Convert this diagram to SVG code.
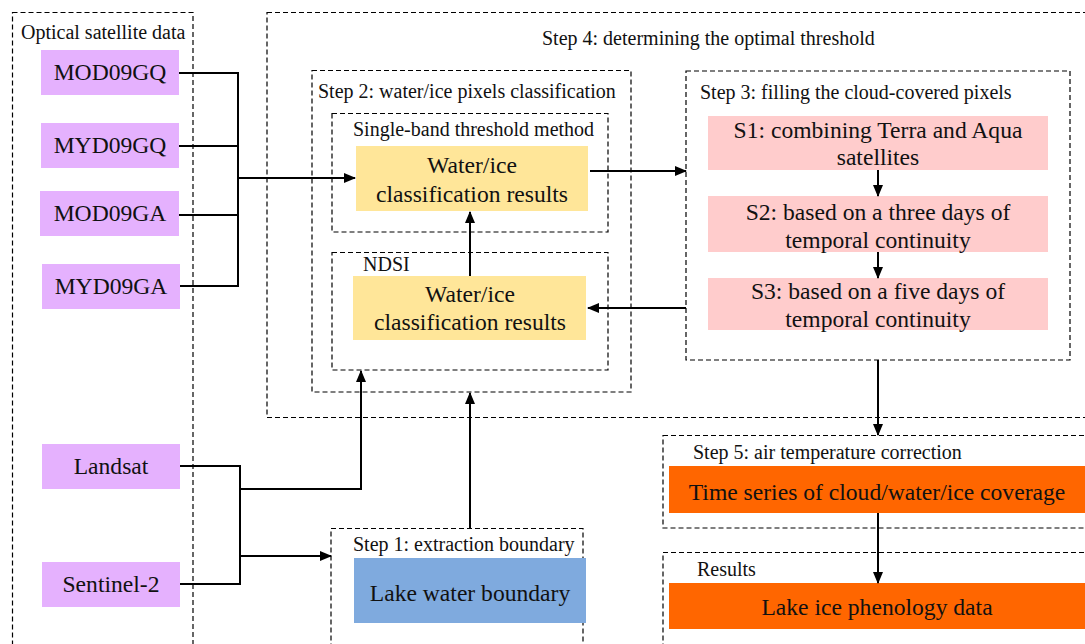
<svg xmlns="http://www.w3.org/2000/svg" width="1085" height="644" viewBox="0 0 1085 644" font-family="'Liberation Serif', 'Times New Roman', serif">
<defs>
<style>
text{font-family:"Liberation Serif","Times New Roman",serif;fill:#111}
.frame{fill:none;stroke:#000;stroke-width:1.2;stroke-dasharray:5 3}
.lbl{font-size:20px}
.txt{font-size:23.6px;text-anchor:middle}
.sat{fill:#E5B1FE}
.yel{fill:#FFE699}
.pink{fill:#FFCCCC}
.blue{fill:#7FAADE}
.org{fill:#FF6600}
.ln{fill:none;stroke:#000;stroke-width:2}
</style>
<marker id="ah" markerUnits="userSpaceOnUse" markerWidth="12" markerHeight="10" refX="11" refY="5" orient="auto">
<path d="M0,0 L12,5 L0,10 Z" fill="#000"/>
</marker>
</defs>
<rect width="1085" height="644" fill="#fff"/>

<g id="frames">
<rect class="frame" x="12.5" y="12.5" width="180.5" height="660"/>
<rect class="frame" x="267" y="12.5" width="840" height="405"/>
<rect class="frame" x="312" y="70.5" width="319" height="321.5"/>
<rect class="frame" x="332" y="113.5" width="276" height="118.5"/>
<rect class="frame" x="332" y="252.5" width="276" height="117.5"/>
<rect class="frame" x="686" y="71" width="384" height="289"/>
<rect class="frame" x="663" y="435.5" width="440" height="92.5"/>
<rect class="frame" x="663" y="552.5" width="440" height="120"/>
<rect class="frame" x="331" y="528.5" width="252" height="140"/>
</g>

<g id="labels">
<text class="lbl" x="21" y="39">Optical satellite data</text>
<text class="lbl" x="542" y="45">Step 4: determining the optimal threshold</text>
<text class="lbl" x="318" y="98">Step 2: water/ice pixels classification</text>
<text class="lbl" x="353" y="136">Single-band threshold method</text>
<text class="lbl" x="363" y="271">NDSI</text>
<text class="lbl" x="700" y="99">Step 3: filling the cloud-covered pixels</text>
<text class="lbl" x="693" y="459">Step 5: air temperature correction</text>
<text class="lbl" x="697" y="576">Results</text>
<text class="lbl" x="353" y="551">Step 1: extraction boundary</text>
</g>

<g id="n-mod09gq"><rect class="sat" x="41" y="50" width="138" height="45"/><text class="txt" x="110" y="80">MOD09GQ</text></g>
<g id="n-myd09gq"><rect class="sat" x="41" y="123" width="138" height="45"/><text class="txt" x="110" y="153">MYD09GQ</text></g>
<g id="n-mod09ga"><rect class="sat" x="40" y="191" width="139" height="45"/><text class="txt" x="110" y="221">MOD09GA</text></g>
<g id="n-myd09ga"><rect class="sat" x="42" y="264" width="138" height="45"/><text class="txt" x="111" y="294">MYD09GA</text></g>
<g id="n-landsat"><rect class="sat" x="42" y="444" width="138" height="45"/><text class="txt" x="111" y="474">Landsat</text></g>
<g id="n-sentinel"><rect class="sat" x="42" y="562" width="138" height="45"/><text class="txt" x="111" y="592">Sentinel-2</text></g>

<g id="n-wi1"><rect class="yel" x="356" y="146" width="232" height="65"/><text class="txt" x="472" y="173">Water/ice</text><text class="txt" x="472" y="202">classification results</text></g>
<g id="n-wi2"><rect class="yel" x="353" y="276" width="233" height="64"/><text class="txt" x="470" y="302">Water/ice</text><text class="txt" x="470" y="330">classification results</text></g>

<g id="n-s1"><rect class="pink" x="708" y="116" width="340" height="54"/><text class="txt" x="878" y="138">S1: combining Terra and Aqua</text><text class="txt" x="878" y="165">satellites</text></g>
<g id="n-s2"><rect class="pink" x="708" y="196" width="340" height="56"/><text class="txt" x="878" y="220">S2: based on a three days of</text><text class="txt" x="878" y="248">temporal continuity</text></g>
<g id="n-s3"><rect class="pink" x="708" y="278" width="340" height="52"/><text class="txt" x="878" y="299">S3: based on a five days of</text><text class="txt" x="878" y="327">temporal continuity</text></g>

<g id="n-ts"><rect class="org" x="669" y="466" width="416" height="47"/><text class="txt" x="877" y="500">Time series of cloud/water/ice coverage</text></g>
<g id="n-phen"><rect class="org" x="669" y="583" width="416" height="46"/><text class="txt" x="877" y="615">Lake ice phenology data</text></g>
<g id="n-lake"><rect class="blue" x="354" y="558" width="232" height="65"/><text class="txt" x="470" y="601">Lake water boundary</text></g>

<g id="connectors">
<path class="ln" d="M179,73 H238 M179,146 H238 M179,215 H238 M180,286 H238 M238,72 V287"/>
<path class="ln" d="M238,178 H355" marker-end="url(#ah)"/>
<path class="ln" d="M590,171 H686" marker-end="url(#ah)"/>
<path class="ln" d="M686,308 H588" marker-end="url(#ah)"/>
<path class="ln" d="M470,276 V212" marker-end="url(#ah)"/>
<path class="ln" d="M878,170 V196" marker-end="url(#ah)"/>
<path class="ln" d="M878,252 V278" marker-end="url(#ah)"/>
<path class="ln" d="M878,360 V435" marker-end="url(#ah)"/>
<path class="ln" d="M878,513 V583" marker-end="url(#ah)"/>
<path class="ln" d="M180,466 H240 M180,584 H240 M240,465 V585"/>
<path class="ln" d="M240,489 H361 V371" marker-end="url(#ah)"/>
<path class="ln" d="M240,556 H331" marker-end="url(#ah)"/>
<path class="ln" d="M470,528 V393" marker-end="url(#ah)"/>
</g>
</svg>
